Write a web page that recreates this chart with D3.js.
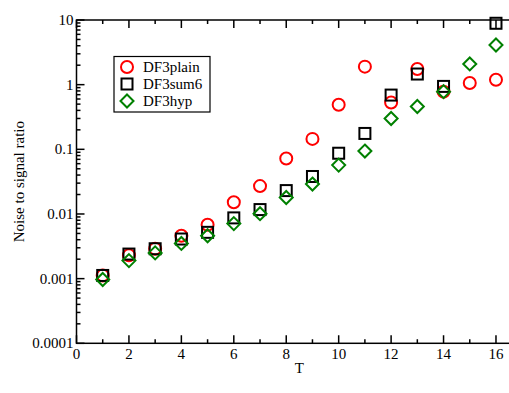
<!DOCTYPE html>
<html>
<head>
  <meta charset="UTF-8">
  <title>Noise to signal ratio</title>
  <script src="https://d3js.org/d3.v7.min.js"></script>
</head>
<style>
body { margin: 0; background: #fff; overflow: hidden; }
text { font-family: "Liberation Serif", "Times New Roman", serif; }
</style>
<body>
<script>

var T = [1, 2, 3, 4, 5, 6, 7, 8, 9, 10, 11, 12, 13, 14, 15, 16];
var df3plain = [0.00112, 0.0023, 0.0029, 0.0046, 0.0068, 0.0152, 0.027, 0.072, 0.145, 0.49, 1.9, 0.53, 1.75, 0.78, 1.06, 1.19];
var df3sum6  = [0.00112, 0.0024, 0.0029, 0.0041, 0.0052, 0.0087, 0.0117, 0.023, 0.038, 0.087, 0.176, 0.69, 1.46, 0.94, null, 8.9];
var df3hyp   = [0.00097, 0.0019, 0.0025, 0.0035, 0.0046, 0.0071, 0.0101, 0.018, 0.029, 0.057, 0.094, 0.30, 0.46, 0.78, 2.09, 4.1];

var xTicks = [0, 2, 4, 6, 8, 10, 12, 14, 16];
var yTicks = [0.0001, 0.001, 0.01, 0.1, 1, 10];
var yTickLabels = ["0.0001", "0.001", "0.01", "0.1", "1", "10"];

var width = 509,
    height = 393;
// the frame runs past the right edge of the picture
var pLeft = 76.5, pRight = 522.2, pTop = 20, pBottom = 343.3;

var svg = d3.select('body')
  .append('svg')
  .attr('width', width)
  .attr('height', height);

var x = d3.scaleLinear().domain([0, 17]).range([pLeft, pRight]);
var y = d3.scaleLog().domain([0.0001, 10]).range([pBottom, pTop]);

// minor ticks
var xMinor = d3.range(1, 18, 2);
var yMinor = [];
yTicks.slice(0, -1).forEach(function(d) {
  for (var k = 2; k <= 9; k++) yMinor.push(d * k);
});

var axes = svg.append('g').attr('stroke', '#000').attr('stroke-width', 1.5).attr('fill', 'none');

axes.append('rect')
  .attr('x', pLeft).attr('y', pTop)
  .attr('width', pRight - pLeft).attr('height', pBottom - pTop);

axes.selectAll('.xmaj')
  .data(xTicks).enter().append('path')
  .attr('d', function(d) {
    var px = x(d);
    return 'M' + px + ',' + pBottom + 'V' + (pBottom - 8) + 'M' + px + ',' + pTop + 'V' + (pTop + 8);
  });
axes.selectAll('.xmin')
  .data(xMinor).enter().append('path')
  .attr('d', function(d) {
    var px = x(d);
    return 'M' + px + ',' + pBottom + 'V' + (pBottom - 4) + 'M' + px + ',' + pTop + 'V' + (pTop + 4);
  });
axes.selectAll('.ymaj')
  .data(yTicks).enter().append('path')
  .attr('d', function(d) {
    var py = y(d);
    return 'M' + pLeft + ',' + py + 'H' + (pLeft + 8);
  });
axes.selectAll('.ymin')
  .data(yMinor).enter().append('path')
  .attr('d', function(d) {
    var py = y(d);
    return 'M' + pLeft + ',' + py + 'H' + (pLeft + 4);
  });

// tick labels
svg.selectAll('.xlab')
  .data(xTicks).enter().append('text')
  .attr('x', function(d) { return x(d); })
  .attr('y', pBottom + 16)
  .attr('text-anchor', 'middle')
  .attr('font-size', 15)
  .text(function(d) { return d; });

svg.selectAll('.ylab')
  .data(yTicks).enter().append('text')
  .attr('x', pLeft - 3)
  .attr('y', function(d) { return y(d) + 5; })
  .attr('text-anchor', 'end')
  .attr('font-size', 15)
  .text(function(d, i) { return yTickLabels[i]; });

svg.append('text')
  .attr('x', x(8.5))
  .attr('y', pBottom + 30)
  .attr('text-anchor', 'middle')
  .attr('font-size', 15)
  .text('T');

svg.append('text')
  .attr('transform', 'translate(24,' + ((pTop + pBottom) / 2) + ') rotate(-90)')
  .attr('text-anchor', 'middle')
  .attr('font-size', 15)
  .text('Noise to signal ratio');

// markers
function pts(vals) {
  return T.map(function(t, i) { return { t: t, v: vals[i] }; })
    .filter(function(d) { return d.v != null; });
}

var plot = svg.append('g');

plot.selectAll('.c')
  .data(pts(df3plain)).enter().append('circle')
  .attr('cx', function(d) { return x(d.t); })
  .attr('cy', function(d) { return y(d.v); })
  .attr('r', 6)
  .attr('fill', 'none')
  .attr('stroke', '#ff0000')
  .attr('stroke-width', 2);

plot.selectAll('.s')
  .data(pts(df3sum6)).enter().append('rect')
  .attr('x', function(d) { return x(d.t) - 5.5; })
  .attr('y', function(d) { return y(d.v) - 5.5; })
  .attr('width', 11).attr('height', 11)
  .attr('fill', 'none')
  .attr('stroke', '#000')
  .attr('stroke-width', 2);

var diamond = 'M0,-6.5L6.5,0L0,6.5L-6.5,0Z';
plot.selectAll('.d')
  .data(pts(df3hyp)).enter().append('path')
  .attr('transform', function(d) { return 'translate(' + x(d.t) + ',' + y(d.v) + ')'; })
  .attr('d', diamond)
  .attr('fill', 'none')
  .attr('stroke', '#008000')
  .attr('stroke-width', 2);

// legend
var lg = svg.append('g');
lg.append('rect')
  .attr('x', 114).attr('y', 56.5)
  .attr('width', 96).attr('height', 55.5)
  .attr('fill', '#fff')
  .attr('stroke', '#000')
  .attr('stroke-width', 1.2);

var legendNames = ['DF3plain', 'DF3sum6', 'DF3hyp'];
var legendY = [67, 84, 101];

lg.append('circle').attr('cx', 127).attr('cy', legendY[0]).attr('r', 6)
  .attr('fill', 'none').attr('stroke', '#ff0000').attr('stroke-width', 2);
lg.append('rect').attr('x', 121.5).attr('y', legendY[1] - 5.5).attr('width', 11).attr('height', 11)
  .attr('fill', 'none').attr('stroke', '#000').attr('stroke-width', 2);
lg.append('path').attr('transform', 'translate(127,' + legendY[2] + ')').attr('d', diamond)
  .attr('fill', 'none').attr('stroke', '#008000').attr('stroke-width', 2);

lg.selectAll('.lt')
  .data(legendNames).enter().append('text')
  .attr('x', 143)
  .attr('y', function(d, i) { return legendY[i] + 5; })
  .attr('font-size', 15)
  .text(function(d) { return d; });

</script>
</body>
</html>
